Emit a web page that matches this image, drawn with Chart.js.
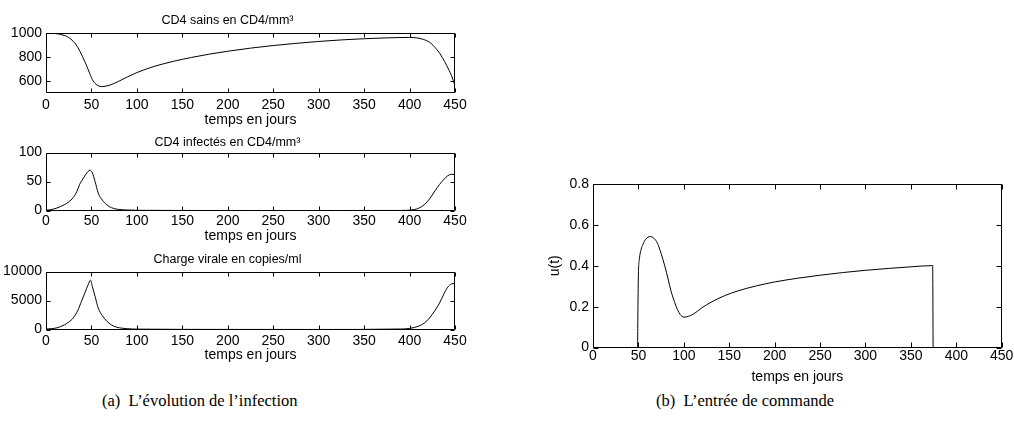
<!DOCTYPE html>
<html>
<head>
<meta charset="utf-8">
<script src="https://cdn.jsdelivr.net/npm/chart.js@4/dist/chart.umd.min.js"></script>
<style>
  body { margin: 0; background: #fff; width: 1014px; height: 425px; position: relative; overflow: hidden; }
  canvas { position: absolute; }
  .caption { position: absolute; top: 391px; font-family: "Liberation Serif", "Times New Roman", serif; font-size: 16.5px; color: #000; white-space: nowrap; }
</style>
</head>
<body>
<canvas id="c1"></canvas>
<canvas id="c2"></canvas>
<canvas id="c3"></canvas>
<canvas id="c4"></canvas>
<div class="caption" id="capA">(a)&nbsp; L’évolution de l’infection</div>
<div class="caption" id="capB">(b)&nbsp; L’entrée de commande</div>
<script>
// x ticks (days), shared by every panel
const dayTicks = [0, 50, 100, 150, 200, 250, 300, 350, 400, 450];

// healthy CD4
const days1 = [0, 10, 20, 25, 30, 35, 40, 45, 48, 50, 52, 54, 56, 58, 61, 65, 70, 75, 80, 90,
  100, 110, 120, 140, 160, 180, 200, 225, 250, 275, 300, 325, 350, 375, 400, 408, 415, 422, 430, 436,
  441, 446, 450];
const cd4Sains = [1000, 996, 980, 962, 930, 880, 805, 720, 662, 625, 597, 577, 564, 556, 550, 553, 562, 577, 595, 633,
  668, 697, 722, 762, 795, 823, 847, 873, 895, 913, 929, 942, 952, 959, 963, 959, 947, 922, 862, 795,
  725, 645, 558];
const yTicks1 = [600, 800, 1000];

// infected CD4
const days2 = [0, 5, 12, 20, 25, 30, 34, 37, 42, 46, 48.5, 51, 54, 57.5, 62, 67, 72, 80, 90, 100,
  150, 300, 390, 400, 410, 416, 422, 428, 433, 438, 442, 446, 450];
const cd4Infectes = [0.5, 1.5, 4.5, 10, 15, 22.5, 33, 45, 58, 67, 69.5, 65, 50, 30, 18, 10, 5, 2, 1, 0.5,
  0.2, 0.1, 0.3, 0.8, 4, 10, 20, 34, 45, 54, 60, 62.5, 62];
const yTicks2 = [0, 50, 100];

// viral load
const days3 = [0, 12, 20, 25, 30, 35, 39, 43, 46, 49, 51, 54, 57.5, 62, 67, 72, 78, 90, 100, 200,
  300, 390, 400, 410, 416, 422, 428, 433, 438, 442, 446, 450];
const chargeVirale = [100, 300, 800, 1300, 2000, 3300, 4860, 6400, 7600, 8500, 7400, 5700, 3700, 2400, 1430, 800, 400, 150, 80, 30,
  20, 100, 200, 600, 1100, 2000, 3300, 4570, 6200, 7300, 7850, 7950];
const yTicks3 = [0, 5000, 10000];

// control input u(t)
const days4 = [0, 49, 49.5, 50, 51, 53, 55, 58, 63, 67, 71, 75, 79, 83, 86, 90, 93, 96, 100, 105,
  110, 115, 120, 130, 145, 160, 180, 200, 225, 250, 275, 300, 325, 350, 374, 374.5, 450];
const commande = [0, 0, 0.2, 0.36, 0.43, 0.48, 0.505, 0.53, 0.543, 0.535, 0.51, 0.46, 0.40, 0.33, 0.275, 0.22, 0.186, 0.162, 0.149, 0.153,
  0.163, 0.178, 0.195, 0.222, 0.254, 0.278, 0.302, 0.321, 0.339, 0.354, 0.367, 0.378, 0.387, 0.395, 0.401, 0, 0];
const yTicks4 = [0, 0.2, 0.4, 0.6, 0.8];

const FONT = "'Liberation Sans', Arial, Helvetica, sans-serif";
const TICK_SIZE = 14;
const TITLE_SIZE = 12.5;

// matlab style box with inward ticks on all four sides
const boxPlugin = {
  id: 'box',
  afterDraw(chart, args, opts) {
    const { ctx, chartArea: a, scales: { x, y } } = chart;
    const len = opts.len || 4;
    const L = Math.round(a.left) + 0.5, R = Math.round(a.right) - 0.5;
    const T = Math.round(a.top) + 0.5, B = Math.round(a.bottom) - 0.5;
    ctx.save();
    ctx.strokeStyle = '#000';
    ctx.lineWidth = 1;
    ctx.beginPath();
    x.ticks.forEach(t => {
      const px = Math.round(x.getPixelForValue(t.value)) + 0.5;
      ctx.moveTo(px, B); ctx.lineTo(px, B - len);
      ctx.moveTo(px, T); ctx.lineTo(px, T + len);
    });
    y.ticks.forEach(t => {
      const py = Math.round(y.getPixelForValue(t.value)) + 0.5;
      ctx.moveTo(L, py); ctx.lineTo(L + len, py);
      ctx.moveTo(R, py); ctx.lineTo(R - len, py);
    });
    ctx.rect(L, T, R - L, B - T);
    ctx.stroke();
    ctx.restore();
  }
};

// p: geometry of one panel in page pixels
function panel(id, xs, ys, yTicks, yMin, yMax, title, yLabel, p) {
  const cv = document.getElementById(id);
  const w = p.right + p.padRight - p.left;
  const tickLH = TICK_SIZE * 1.2;
  const axisH = p.xlabC + tickLH / 2 - p.areaBottom;
  const h = p.areaBottom + axisH - p.top;
  cv.style.left = p.left + 'px';
  cv.style.top = p.top + 'px';
  cv.style.width = w + 'px';
  cv.style.height = h + 'px';
  cv.width = w; cv.height = h;

  const titleLH = TITLE_SIZE * 1.2;
  return new Chart(cv, {
    type: 'line',
    data: {
      datasets: [{
        data: xs.map((d, i) => ({ x: d, y: ys[i] })),
        borderColor: '#000',
        borderWidth: 1,
        pointRadius: 0,
        cubicInterpolationMode: 'monotone',
        fill: false
      }]
    },
    options: {
      responsive: false,
      animation: false,
      events: [],
      layout: { padding: { left: 0, right: p.padRight, top: title ? 0 : p.areaTop - p.top, bottom: 0 } },
      plugins: {
        legend: { display: false },
        tooltip: { enabled: false },
        box: { len: p.tickLen },
        title: {
          display: !!title,
          text: title,
          color: '#000',
          font: { family: FONT, size: TITLE_SIZE, weight: 'normal' },
          padding: title ? { top: p.titleC - p.top - titleLH / 2, bottom: p.areaTop - p.titleC - titleLH / 2 } : 0
        }
      },
      scales: {
        x: {
          type: 'linear',
          min: 0, max: 450,
          afterBuildTicks: s => { s.ticks = dayTicks.map(v => ({ value: v })); },
          afterFit: s => { s.height = axisH; },
          ticks: {
            color: '#000', padding: p.tickC - p.areaBottom - tickLH / 2,
            maxRotation: 0, autoSkip: false,
            font: { family: FONT, size: TICK_SIZE },
            callback: v => String(v)
          },
          grid: { display: false, drawTicks: false },
          border: { display: false },
          title: {
            display: true, text: 'temps en jours', color: '#000',
            font: { family: FONT, size: TICK_SIZE }, padding: 0
          }
        },
        y: {
          type: 'linear',
          min: yMin, max: yMax,
          afterBuildTicks: s => { s.ticks = yTicks.map(v => ({ value: v })); },
          afterFit: s => { s.width = p.areaLeft - p.left; },
          ticks: {
            color: '#000', padding: 4, autoSkip: false,
            font: { family: FONT, size: TICK_SIZE },
            callback: v => String(v)
          },
          grid: { display: false, drawTicks: false },
          border: { display: false },
          title: {
            display: !!yLabel, text: yLabel, color: '#000',
            font: { family: FONT, size: TICK_SIZE },
            padding: { top: p.ylabX - p.left - tickLH / 2, bottom: 0 }
          }
        }
      }
    },
    plugins: [boxPlugin]
  });
}

panel('c1', days1, cd4Sains, yTicks1, 500, 1000, 'CD4 sains en CD4/mm³', '',
  { left: 0, top: 0, areaLeft: 46, right: 455, padRight: 20, areaTop: 33, areaBottom: 93, titleC: 21, tickC: 106, xlabC: 121, tickLen: 4 });
panel('c2', days2, cd4Infectes, yTicks2, 0, 100, 'CD4 infectés en CD4/mm³', '',
  { left: 0, top: 130, areaLeft: 46, right: 455, padRight: 20, areaTop: 152.5, areaBottom: 211, titleC: 143, tickC: 222, xlabC: 237, tickLen: 4 });
panel('c3', days3, chargeVirale, yTicks3, 0, 10000, 'Charge virale en copies/ml', '',
  { left: 0, top: 246, areaLeft: 46, right: 455, padRight: 20, areaTop: 271.5, areaBottom: 330, titleC: 260, tickC: 342, xlabC: 356, tickLen: 4 });
panel('c4', days4, commande, yTicks4, 0, 0.8, '', 'u(t)',
  { left: 530, top: 170, areaLeft: 593, right: 1003, padRight: 11, areaTop: 184, areaBottom: 348, tickC: 357, xlabC: 378, ylabX: 555, tickLen: 5 });

// centre the captions under their figures
const capA = document.getElementById('capA');
const capB = document.getElementById('capB');
capA.style.left = (200 - capA.offsetWidth / 2) + 'px';
capB.style.left = (745 - capB.offsetWidth / 2) + 'px';
</script>
</body>
</html>
